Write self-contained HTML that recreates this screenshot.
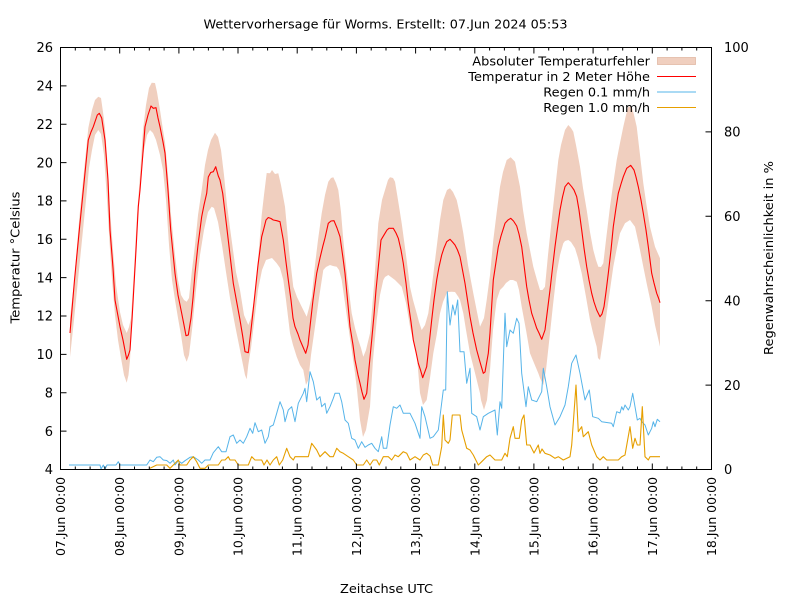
<!DOCTYPE html>
<html>
<head>
<meta charset="utf-8">
<style>
html,body{margin:0;padding:0;background:#fff;}
svg{display:block;}
text{font-family:"DejaVu Sans","Liberation Sans",sans-serif;fill:#000;}
</style>
</head>
<body>
<svg width="800" height="600" viewBox="0 0 800 600" xmlns="http://www.w3.org/2000/svg">
<rect x="0" y="0" width="800" height="600" fill="#fff"/>

<!-- Band -->
<polygon fill="#f0cfbf" stroke="none" points="
70,318 74,283 79.3,218 83.3,178 88.3,128 92,110 95,100 98.3,96.7 101,98 103,112 105,128 108,170 110,210 113,250 116,285 120,312 123,325 126.7,333 129,327 131,318 134,270 137,215 140,175 143,130 146,105 149,88 151.7,82.7 155,83 157,92 160,110 163,130 165,142 168,175 171,215 175,255 178,280 181,295 184,300 186.7,301.7 189,298 192,270 195,245 198,215 201.7,190 205,165 208,150 211,140 215,132.7 218,137 221,150 224,175 227,205 230,228 233,250 236,272 240,290 244,315 248.3,325 251,318 254,300 258,260 261.7,215 264,195 266.7,173 270,173.3 272,170 275,174 278.3,173.3 281,185 285,206.7 289,250 293.3,286.7 297,297 301.7,306.7 306.7,316.7 309,308 311.7,296.7 315,265 318,240 321.7,213.3 325,195 328.3,181.7 331,178 333.3,177.3 336,183 338.3,190 341,212 343.3,240 347,275 351.7,313.3 355,328 358.3,340 361,348 363.3,356.7 366,350 370,333.3 374,285 378.3,223.3 382,200 385,190 388,180 390,177.3 393,178 395,181.7 398,200 401.7,223.3 406,255 410,286.7 413,300 416.7,313.3 419,322 421.7,330 425,325 428.3,313.3 432,285 436.7,246.7 440,220 443.3,200 447,190 450,188.3 453,192 456.7,200 460,215 463.3,233.3 468,265 473.3,293.3 477,312 480,326.7 484,318 486.7,300 490,275 493.3,240 497,210 500,186.7 503,172 506.7,160 510.7,157.3 515,161.7 517,172 520,186.7 523,210 526.7,233.3 530,250 533.3,266.7 537,280 540,290 542.5,290 545,286.7 548,255 551.7,220 555,190 558.3,160 561,145 565,130 568.3,125 571,128 573.3,131.7 576,145 580,166.7 583,188 586.7,210 590,232 593.3,250 596,260 598.3,266.7 601,267 603.3,263.3 606,240 610,206.7 613,185 616.7,160 620,143 623.3,126.7 626,115 628.3,106.7 631.7,106.7 634,115 636.7,126.7 640,155 643.3,183.3 646.5,205 650,226.7 655,246.7 660,258.3
660,346.7 655,325 651.7,306.7 647,285 643.3,266.7 639,245 635,226.7 630,220 625,223.3 620,233.3 616.5,250 613.3,266.7 610,290 606.7,313.3 603,340 600,360 598,358 596.7,346.7 593,333 590,320 586,297 581.7,273.3 578,258 575,248.3 571,242 568.3,240 565,241 563.3,243.3 560,255 556.7,273.3 553,305 550,333.3 546,370 543.3,385 540,378 538.3,373.3 534,363 530,353.3 526,330 521.7,306.7 519,290 516.7,281.7 513,280 510,280 506,283 503.3,286.7 500,290 496.7,300 493,330 490,370 487,400 484,410 481,400 480,393.3 475,373 470,353.3 466,330 463.3,313.3 460,300 458.3,296.7 455,292 451.7,291.7 448,292 446.7,293.3 443,302 440,313.3 436.7,335 433.3,353.3 430,378 426.7,400 423,405 420,393 416.7,353.3 413,340 410,326.7 406,303 401.7,286.7 398,283 395,280 391,277 388.3,275 385,277 383.3,280 380,295 376.7,320 373,360 370,406.7 366,430 363,437 360,420 357,390 355,373.3 351.7,350 348.3,326.7 345,303 341.7,280 339,270 336.7,266.7 333,266 330,265 326,267 323.3,270 319,298 315,326.7 311,355 308.3,380 306,385 303.3,370 300,365 296.7,356.7 293,345 290,333.3 286,300 283.3,280 280,268 276.7,263.3 272,258 266,260 262,270 258,290 255,315 251,348 248.3,365 246.7,379.3 245,375 242,360 239,345 235,325 230,298 226,272 222,245 218,222 214,208 211.7,206.7 208,212 204,230 200,255 196,290 192,330 189,355 186.7,361.7 184,355 181,335 178,318 175,300 172,280 169,245 166,200 163,170 160,155 156,140 153,133 150,130 147,135 144,150 141,175 138,215 135,270 132,320 130,360 128.5,375 126.7,382.7 124,375 121,358 118,340 115,315 112,280 110,250 107,200 104,155 101,134 98.3,130 95,135 92,150 89,168 86,200 83,230 80,260 77,290 74,320 70,357"/>

<!-- Temperature -->
<polyline fill="none" stroke="#ff0000" stroke-width="1.1" stroke-linejoin="round" points="
70,333 74.5,280 79.3,230 83.3,190 88.3,140 91,132 93.3,126.7 97.3,115 99.3,113.3 101.7,118 105,140 108,180 110,230 113,268 115,300 120,326.7 123,340 126.7,359.3 128.5,355 130,350 132,320 134,285 136,250 138.3,206.7 140,190 142,165 145,126.7 148,115 151,106 153.3,108.3 156,107.7 158,118 160,126.7 163,142 165,153 168,190 170.7,230 175,273.3 178,295 181.7,313.3 184,325 186,335.7 188.3,335 191,318 193,298 195,273.3 198,245 201.7,216.7 204,205 206.7,193.3 208.3,177 210.7,172.5 213.3,171.7 215.7,166.7 218.3,176 220,180 222.7,193.3 226.7,226.7 230,255 233.3,283.3 236.7,302 240,320 242.5,335 245,351.7 248.3,352.7 251,330 255,293.3 258,265 261.7,236.7 264,228 266,220 268.3,217.5 271,218.5 273.3,220 276.7,220.7 280,221.7 283.3,240 286,262 288.3,280 291,300 293,318 295,326.7 298,334 300,340 303,347 305.7,353.3 308,345 310,326.7 313,300 316.7,273.3 320,258 322.7,246.7 325,238 328.3,223.3 331,221 334,220.7 337,228 340,236.7 343,258 345,273.3 348,305 350,326.7 353,345 355,360 358,375 360,383.3 362,392 364,399.3 366.7,393.3 369,368 371.7,340 374,315 376,290 378.5,265 381,240 385,233.3 387,230 389,228.3 393.3,228.3 396,233 398.3,238.3 401,250 403.3,263.3 406,283 408.3,303.3 411,322 413.3,340 416,352 418.3,363.3 420.5,370 422.7,377.7 426.7,366.7 429,345 431.7,320 434,300 436.7,280 439,267 441.7,255 444,248 446.7,241.7 450,239.3 452.5,242 455,245 457.5,250 460,256.7 462.5,270 465,283.3 467.5,300 470,316.7 473,333 476.7,350 480,362 483.3,373.3 485,372 488.3,353.3 490,333 493.3,280 496,262 498.3,246.7 501,236 505,223.3 508,220 510.7,218.3 513.5,221 516.7,226 519,234 521.7,246.7 524,265 526.7,286.7 529,300 531.7,313.3 534,320 536.7,328.3 539,333 541.7,339.3 545,330 547.5,310 550,290 552.5,268 555,246.7 557.5,228 560,210 562.5,197 565,186.7 568.3,182.7 571.7,186.7 574,190 576.7,196.7 579,210 581.7,230 584,248 586.7,266.7 589,280 591.7,293.3 594,302 596.7,310 600,316.7 602,314 604,306.7 606,292 608.3,273.3 611,250 613.3,226.7 616,208 618.3,193.3 621,184 623.3,176.7 626.7,168.3 630.7,165.3 634,170 636,177 638.3,186.7 641,200 643.3,213.3 646,230 648.3,246.7 650,260 651.7,273.3 654,283 656.7,293.3 658.5,298 660,302.7"/>

<!-- Rain 0.1 -->
<polyline fill="none" stroke="#56b4e9" stroke-width="1" stroke-linejoin="round" points="
69,465 100,465 101,469 103.3,465 105,469 107,465 116,465 118.3,461.7 120,465 146.7,465 150,460 153.3,461.7 156.7,457.3 160,456.7 163.3,460 166.7,460.5 170,463.3 173.3,460 175,465 178.3,460.7 181.7,463.3 185,460.7 190,457.3 193.3,456.7 198.3,460 201.7,463.3 205,460 210,460 213.3,452.7 218.3,446.7 221.7,451.7 226,451.7 230,436.7 233.3,435 236.7,443.3 240,440 243.3,443.3 246.7,436.7 250,428.3 252.7,433.3 255,422.7 258.3,431.7 261.7,430 265,443.3 268.3,436.7 270,426.7 273.3,425 276.7,413.3 280,401.7 283.3,410 285,421.7 288.3,410 291.7,406.7 295,421.7 298.3,403.3 303.3,393.3 305,388.3 306.7,401.7 310,371.7 313.3,381.7 316.7,400 320,396.7 321.7,406.7 325,403.3 326.7,413.3 330,406.7 333.3,398.3 335,393.3 339.3,393.3 341.7,401.7 345,420 348.3,423.3 351.7,438.3 355,440 358.3,448.3 361.7,441.7 365,447.3 368.3,445 371.7,443.3 375,448.3 378.3,451.7 381.7,436.7 383.3,448.3 386.7,448.3 390,425 393.3,406.7 396.7,408.3 400,405 403.3,413.3 410,413.3 415,423.3 420,438.3 421.7,406.7 425,416.7 430,438.3 433.3,436.7 438.3,430 443.3,390 445.7,390 447.3,291.7 450,325 452.7,305 455,315 457.7,300 460,351.7 464,351.7 466.7,383.3 470,368.3 471.7,413.3 476.7,416.7 480,430 483.3,416.7 488.3,413.3 495,410 497.3,435 500,401.7 501.7,408.3 505,313.3 506.7,346.7 510,330 513.3,333.3 516.7,318.3 519,323.3 521.7,373.3 526,406.7 528.3,386.7 531.7,400 536.7,401.7 541.7,391.7 543.3,368.3 546.7,386.7 550,406.7 555,425 560,416.7 565,405 568.3,386.7 571.7,363.3 576,355 580,373.3 585,400 589.3,390 592.7,416.7 598.3,418.3 601.7,421.7 611.7,423.3 613.3,426.7 616.7,411.7 620,413 621.7,406.7 623.3,410 625,405 628.3,410 630,406.7 632.7,393.3 635,406.7 637.3,420 640,418.3 641.7,421.7 645,425 648.3,435 651.7,428.3 653.3,421.7 655,426.7 657.3,419.3 660,421.7"/>

<!-- Rain 1.0 -->
<polyline fill="none" stroke="#e69f00" stroke-width="1.1" stroke-linejoin="round" points="
150,468.3 156.7,465 166.7,465 170,468.3 173.3,465 178.3,460 180,465 186.7,465 190,460 193.3,456.7 196.7,461.7 200,468.3 205,468.3 208.3,465 218.3,465 221.7,460 225,460 228.3,456.7 230,460 235,460 238.3,465 248.3,465 251.7,456.7 255,460 261.7,460 264,465 267,460 270,465 273.3,460 276.7,456.7 279.3,465 282.7,460 286.7,448.3 290,456.7 293.3,460 295,456.7 308.3,456.7 311.7,443.3 316.7,450 320,456.7 325,451.7 330,456.7 333.3,456.7 336.7,448.3 340,451.7 343.3,453.3 348.3,456.7 353.3,460 356.7,465 363.3,465 366.7,460 370,465 373.3,460 376.7,460 379.3,465 383.3,456.7 388.3,456.7 391.7,460 395,455 398.3,456.7 403.3,451.7 406.7,453.3 410,460 415,456.7 420,460 423.3,455 426.7,453.3 430,456 432.7,465 438.3,465 441.7,446.7 443.3,415 445,440 448.3,443.3 450,440 452.3,415 460,415 461.7,430 466.7,448.3 470,450 473.3,455 478.3,465 481.7,461.7 486.7,456.7 490,455 495,460 501.7,460 505,453.3 507.3,456.7 510,438.3 513.3,426.7 515,438.3 519.3,438.3 521.7,420 524,415 526.7,445 530,445 534,453 538.3,445 540,453.3 542,449 545,453.3 550,455 555,458.3 558.3,456.7 563.3,460 570,456.7 571.7,445 576,385 578.3,431.7 581.7,426.7 583.3,436.7 588.3,431.7 591.7,445 596.7,456.7 600,460 603.3,456.7 606.7,460 618.3,460 621.7,456.7 625,455 630,426.7 632.7,448.3 635,438.3 637.3,445 640,445 642.3,406.7 645,456.7 648.3,460 650,456.7 660,456.7"/>

<!-- Border and ticks -->
<g stroke="#000" stroke-width="1" fill="none">
<rect x="60.5" y="47.5" width="651" height="422"/>
<path d="M60.5 85.9h6M60.5 124.2h6M60.5 162.6h6M60.5 200.9h6M60.5 239.3h6M60.5 277.6h6M60.5 316h6M60.5 354.4h6M60.5 392.7h6M60.5 431.1h6"/>
<path d="M711.5 131.9h-6M711.5 216.3h-6M711.5 300.7h-6M711.5 385.1h-6"/>
<path d="M119.7 469.5v-6M178.9 469.5v-6M238 469.5v-6M297.2 469.5v-6M356.4 469.5v-6M415.6 469.5v-6M474.8 469.5v-6M533.9 469.5v-6M593.1 469.5v-6M652.3 469.5v-6
M119.7 47.5v6M178.9 47.5v6M238 47.5v6M297.2 47.5v6M356.4 47.5v6M415.6 47.5v6M474.8 47.5v6M533.9 47.5v6M593.1 47.5v6M652.3 47.5v6"/>
<path d="M75.3 469.5v-3M90.1 469.5v-3M104.9 469.5v-3M134.5 469.5v-3M149.3 469.5v-3M164.1 469.5v-3M193.7 469.5v-3M208.4 469.5v-3M223.2 469.5v-3M252.8 469.5v-3M267.6 469.5v-3M282.4 469.5v-3M312 469.5v-3M326.8 469.5v-3M341.6 469.5v-3M371.2 469.5v-3M386 469.5v-3M400.8 469.5v-3M430.4 469.5v-3M445.2 469.5v-3M460 469.5v-3M489.6 469.5v-3M504.4 469.5v-3M519.2 469.5v-3M548.7 469.5v-3M563.5 469.5v-3M578.3 469.5v-3M607.9 469.5v-3M622.7 469.5v-3M637.5 469.5v-3M667.1 469.5v-3M681.9 469.5v-3M696.7 469.5v-3
M75.3 47.5v3M90.1 47.5v3M104.9 47.5v3M134.5 47.5v3M149.3 47.5v3M164.1 47.5v3M193.7 47.5v3M208.4 47.5v3M223.2 47.5v3M252.8 47.5v3M267.6 47.5v3M282.4 47.5v3M312 47.5v3M326.8 47.5v3M341.6 47.5v3M371.2 47.5v3M386 47.5v3M400.8 47.5v3M430.4 47.5v3M445.2 47.5v3M460 47.5v3M489.6 47.5v3M504.4 47.5v3M519.2 47.5v3M548.7 47.5v3M563.5 47.5v3M578.3 47.5v3M607.9 47.5v3M622.7 47.5v3M637.5 47.5v3M667.1 47.5v3M681.9 47.5v3M696.7 47.5v3"/>
</g>

<!-- Title -->
<text x="385.5" y="28.5" font-size="12.7" text-anchor="middle" textLength="364" lengthAdjust="spacingAndGlyphs">Wettervorhersage für Worms. Erstellt: 07.Jun 2024 05:53</text>

<!-- Left tick labels -->
<g font-size="13" text-anchor="end">
<text x="53" y="52.2">26</text>
<text x="53" y="90.6">24</text>
<text x="53" y="128.9">22</text>
<text x="53" y="167.3">20</text>
<text x="53" y="205.6">18</text>
<text x="53" y="244">16</text>
<text x="53" y="282.3">14</text>
<text x="53" y="320.7">12</text>
<text x="53" y="359.1">10</text>
<text x="53" y="397.4">8</text>
<text x="53" y="435.8">6</text>
<text x="53" y="474.2">4</text>
</g>

<!-- Right tick labels -->
<g font-size="13" text-anchor="start">
<text x="724" y="52.2">100</text>
<text x="724" y="136.6">80</text>
<text x="724" y="221">60</text>
<text x="724" y="305.4">40</text>
<text x="724" y="389.8">20</text>
<text x="724" y="474.2">0</text>
</g>

<!-- X tick labels -->
<g font-size="12" text-anchor="end">
<text transform="translate(65,477) rotate(-90)" textLength="79" lengthAdjust="spacingAndGlyphs">07.Jun 00:00</text>
<text transform="translate(124.2,477) rotate(-90)" textLength="79" lengthAdjust="spacingAndGlyphs">08.Jun 00:00</text>
<text transform="translate(183.4,477) rotate(-90)" textLength="79" lengthAdjust="spacingAndGlyphs">09.Jun 00:00</text>
<text transform="translate(242.5,477) rotate(-90)" textLength="79" lengthAdjust="spacingAndGlyphs">10.Jun 00:00</text>
<text transform="translate(301.7,477) rotate(-90)" textLength="79" lengthAdjust="spacingAndGlyphs">11.Jun 00:00</text>
<text transform="translate(360.9,477) rotate(-90)" textLength="79" lengthAdjust="spacingAndGlyphs">12.Jun 00:00</text>
<text transform="translate(420.1,477) rotate(-90)" textLength="79" lengthAdjust="spacingAndGlyphs">13.Jun 00:00</text>
<text transform="translate(479.3,477) rotate(-90)" textLength="79" lengthAdjust="spacingAndGlyphs">14.Jun 00:00</text>
<text transform="translate(538.4,477) rotate(-90)" textLength="79" lengthAdjust="spacingAndGlyphs">15.Jun 00:00</text>
<text transform="translate(597.6,477) rotate(-90)" textLength="79" lengthAdjust="spacingAndGlyphs">16.Jun 00:00</text>
<text transform="translate(656.8,477) rotate(-90)" textLength="79" lengthAdjust="spacingAndGlyphs">17.Jun 00:00</text>
<text transform="translate(716,477) rotate(-90)" textLength="79" lengthAdjust="spacingAndGlyphs">18.Jun 00:00</text>
</g>

<!-- Axis labels -->
<text x="386.5" y="593" font-size="12.7" text-anchor="middle" textLength="93" lengthAdjust="spacingAndGlyphs">Zeitachse UTC</text>
<text transform="translate(19.5,257.5) rotate(-90)" font-size="12.7" text-anchor="middle" textLength="132" lengthAdjust="spacingAndGlyphs">Temperatur °Celsius</text>
<text transform="translate(773,258) rotate(-90)" font-size="12.7" text-anchor="middle" textLength="194" lengthAdjust="spacingAndGlyphs">Regenwahrscheinlichkeit in %</text>

<!-- Legend -->
<g font-size="12.7" text-anchor="end">
<text x="650" y="65.7" textLength="177.7" lengthAdjust="spacingAndGlyphs">Absoluter Temperaturfehler</text>
<text x="650" y="81.2" textLength="181.7" lengthAdjust="spacingAndGlyphs">Temperatur in 2 Meter Höhe</text>
<text x="650" y="96.7" textLength="106.7" lengthAdjust="spacingAndGlyphs">Regen 0.1 mm/h</text>
<text x="650" y="112.2" textLength="106.7" lengthAdjust="spacingAndGlyphs">Regen 1.0 mm/h</text>
</g>
<rect x="657.5" y="57.5" width="38" height="7" fill="#f0cfbf" stroke="#e2b9a6" stroke-width="0.8"/>
<line x1="657" y1="76.5" x2="696" y2="76.5" stroke="#ff0000" stroke-width="1"/>
<line x1="657" y1="92" x2="696" y2="92" stroke="#56b4e9" stroke-width="1"/>
<line x1="657" y1="107.5" x2="696" y2="107.5" stroke="#e69f00" stroke-width="1"/>
</svg>
</body>
</html>
